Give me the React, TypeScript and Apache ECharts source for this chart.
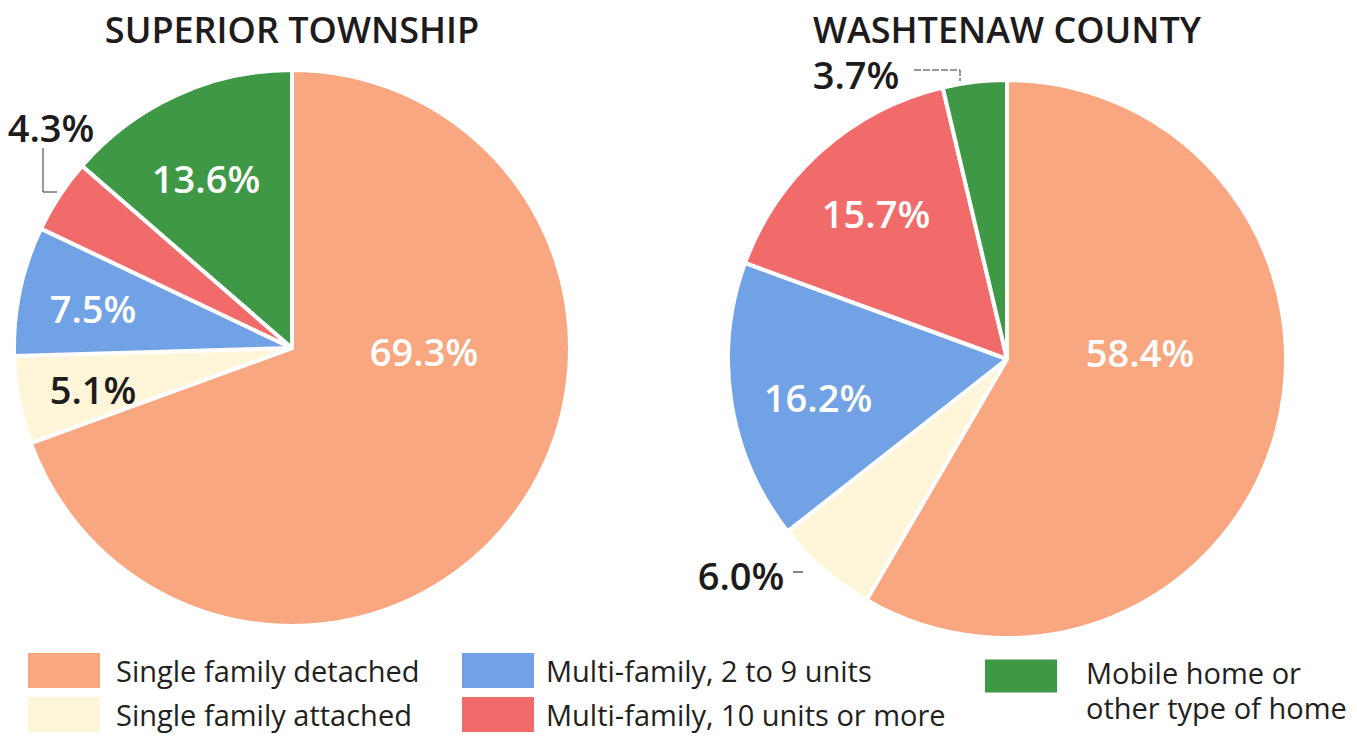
import React, { useEffect, useRef } from "react";
import * as echarts from "echarts";

// ---- data ----
const categories = [
  "Single family detached",
  "Single family attached",
  "Multi-family, 2 to 9 units",
  "Multi-family, 10 units or more",
  "Mobile home or other type of home",
];
const superiorValues = [69.3, 5.1, 7.5, 4.3, 13.6];
const washtenawValues = [58.4, 6.0, 16.2, 15.7, 3.7];
const titles = ["SUPERIOR TOWNSHIP", "WASHTENAW COUNTY"];

// ---- styles / layout ----
const colors = ["#F9A781", "#FFF6DA", "#71A2E5", "#F26B6B", "#3E9845"];
const FONT = "'Open Sans', 'Noto Sans', sans-serif";
const pieCenters = [
  [292, 348],
  [1007, 359],
];
const pieRadius = [278, 279];
// label centres (px) for each slice, per pie
const labelPos = [
  [
    [424, 351],
    [93, 389],
    [93, 308],
    [51, 127],
    [206, 178],
  ],
  [
    [1140, 352],
    [741, 575],
    [818, 397],
    [876, 213],
    [856, 74],
  ],
];
const labelDark = [
  [false, true, false, true, false],
  [false, true, false, false, true],
];

export default function App() {
  const ref = useRef<HTMLDivElement>(null);
  useEffect(() => {
    document.body.style.margin = "0";
    const chart = echarts.init(ref.current!, undefined, { renderer: "svg" });
    const values = [superiorValues, washtenawValues];
    const series = values.map((vals, s) => ({
      type: "pie",
      center: pieCenters[s],
      radius: [0, pieRadius[s]],
      startAngle: 90,
      clockwise: true,
      silent: true,
      itemStyle: { borderColor: "#ffffff", borderWidth: 4 },
      label: {
        show: true,
        position: "inside",
        fontFamily: FONT,
        fontSize: 38,
        fontWeight: 600,
        lineHeight: 38,
        formatter: (p: any) => Number(p.value).toFixed(1) + "%",
      },
      labelLine: { show: false },
      labelLayout: (params: any) => {
        const p = labelPos[s][params.dataIndex];
        return { x: p[0], y: p[1], align: "center", verticalAlign: "middle" };
      },
      data: categories.map((name, i) => ({
        name,
        value: vals[i],
        itemStyle: { color: colors[i] },
        label: {
          color: labelDark[s][i] ? "#1e1b1c" : "#ffffff",
          textBorderWidth: 0,
        },
      })),
    }));

    const legendBase = {
      orient: "vertical",
      icon: "rect",
      itemWidth: 72,
      itemHeight: 35,
      itemGap: 9,
      padding: 0,
      height: 200,
      width: 480,
      selectedMode: false,
      itemStyle: { borderWidth: 0 },
      textStyle: {
        fontFamily: FONT,
        fontSize: 29,
        color: "#231F20",
        padding: [0, 0, 0, 11],
      },
    };

    chart.setOption({
      animation: false,
      backgroundColor: "#ffffff",
      title: titles.map((t, i) => ({
        text: t,
        left: pieCenters[i][0],
        top: 11,
        padding: 0,
        textAlign: "center",
        textStyle: {
          fontFamily: FONT,
          fontSize: 36,
          lineHeight: 36,
          fontWeight: 600,
          color: "#1e1b1c",
        },
      })),
      legend: [
        { ...legendBase, left: 28, top: 653, data: categories.slice(0, 2) },
        {
          ...legendBase,
          left: 462,
          top: 653,
          data: categories.slice(2, 4),
          textStyle: { ...legendBase.textStyle, padding: [0, 0, 0, 7] },
        },
        {
          ...legendBase,
          left: 985,
          top: 655,
          itemHeight: 61,
          // swatch in the upper part of the icon box, text block centred on the box
          icon: "path://M0,0L72,0L72,33L0,33Z M0,61L0.01,61",
          data: categories.slice(4),
          formatter: () => "Mobile home or\nother type of home",
          textStyle: {
            ...legendBase.textStyle,
            lineHeight: 35,
            padding: [0, 0, 0, 24],
          },
        },
      ],
      graphic: [
        {
          type: "polyline",
          silent: true,
          shape: {
            points: [
              [labelPos[0][3][0] - 8, labelPos[0][3][1] + 21],
              [labelPos[0][3][0] - 8, labelPos[0][3][1] + 65],
              [labelPos[0][3][0] + 6, labelPos[0][3][1] + 65],
            ],
          },
          style: { stroke: "#333", lineWidth: 1, fill: null },
        },
        {
          type: "polyline",
          silent: true,
          shape: {
            points: [
              [labelPos[1][4][0] + 58, labelPos[1][4][1] - 4],
              [labelPos[1][4][0] + 104, labelPos[1][4][1] - 4],
              [labelPos[1][4][0] + 104, labelPos[1][4][1] + 7],
            ],
          },
          style: { stroke: "#333", lineWidth: 1, fill: null, lineDash: [7, 2] },
        },
        {
          type: "line",
          silent: true,
          shape: {
            x1: labelPos[1][1][0] + 52,
            y1: labelPos[1][1][1] - 3,
            x2: labelPos[1][1][0] + 62,
            y2: labelPos[1][1][1] - 3,
          },
          style: { stroke: "#333", lineWidth: 1.2 },
        },
      ],
      series,
    });
    return () => chart.dispose();
  }, []);
  return <div ref={ref} style={{ width: 1357, height: 736 }} />;
}
